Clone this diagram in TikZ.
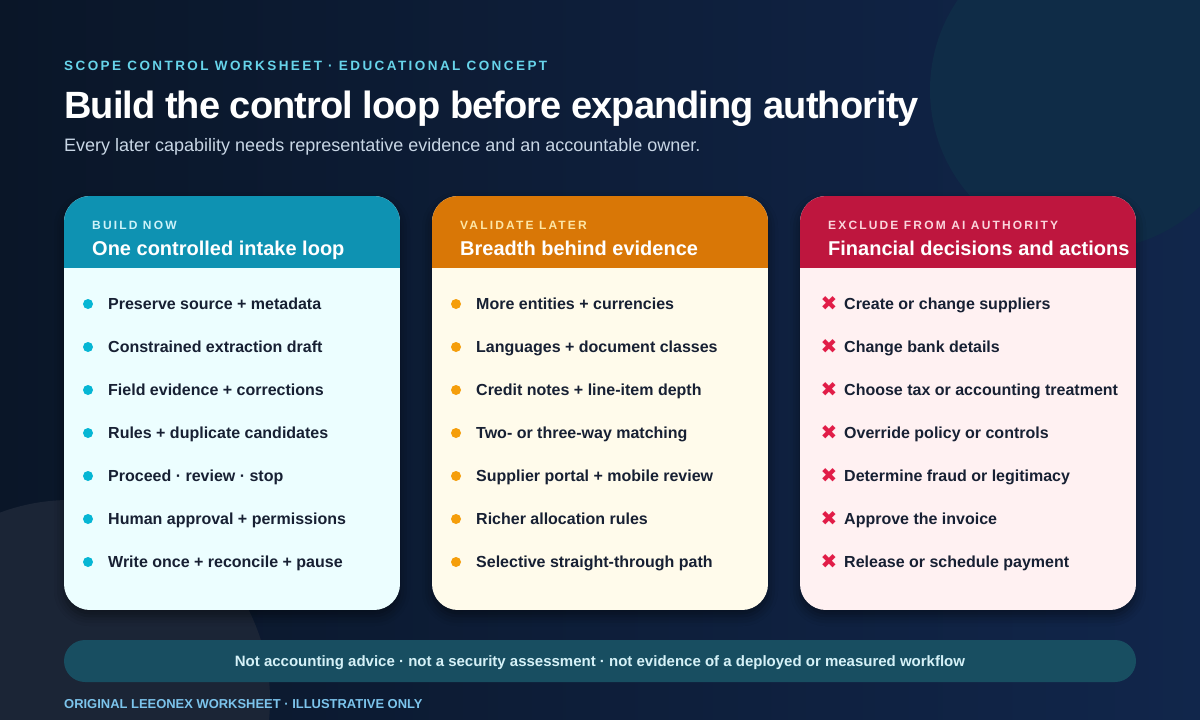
\documentclass[tikz,border=0pt]{standalone}
\usepackage{fontspec}
\setmainfont{Liberation Sans}
\newfontfamily\trackfont[LetterSpace=18]{Liberation Sans}
\newfontfamily\tightfont[LetterSpace=-2.4]{Liberation Sans}
\newfontfamily\symfont{DejaVu Sans}
\usetikzlibrary{shadows.blur}
\definecolor{bgl}{HTML}{0A1628}
\definecolor{bgr}{HTML}{11264B}
\definecolor{ringa}{HTML}{0F2C47}
\definecolor{ringb}{HTML}{1B2536}
\definecolor{kickc}{HTML}{67D4EA}
\definecolor{descc}{HTML}{C8D6E5}
\definecolor{inkc}{HTML}{172033}
\definecolor{headA}{HTML}{0E92B2}
\definecolor{bodyA}{HTML}{ECFEFF}
\definecolor{tagA}{HTML}{CDF3F9}
\definecolor{dotA}{HTML}{06B6D4}
\definecolor{headB}{HTML}{D97706}
\definecolor{bodyB}{HTML}{FFFBEB}
\definecolor{tagB}{HTML}{FDE6A6}
\definecolor{dotB}{HTML}{F59E0B}
\definecolor{headC}{HTML}{BE163E}
\definecolor{bodyC}{HTML}{FFF1F2}
\definecolor{tagC}{HTML}{FBD5DC}
\definecolor{dotC}{HTML}{E11D48}
\definecolor{bandc}{HTML}{184E61}
\definecolor{bandt}{HTML}{D5F1F7}
\definecolor{footc}{HTML}{7CC4EC}
\begin{document}
\begin{tikzpicture}[x=1pt,y=-1pt,
    kicker/.style={anchor=base west,inner sep=0,text=kickc,font=\trackfont\bfseries\fontsize{13.5}{14}\selectfont},
    bigtitle/.style={anchor=base west,inner sep=0,text=white,font=\tightfont\bfseries\fontsize{38}{40}\selectfont},
    lede/.style={anchor=base west,inner sep=0,text=descc,font=\fontsize{18}{20}\selectfont},
    tag/.style={anchor=base west,inner sep=0,font=\trackfont\bfseries\fontsize{12}{13}\selectfont},
    head/.style={anchor=base west,inner sep=0,text=white,font=\bfseries\fontsize{20}{22}\selectfont},
    item/.style={anchor=base west,inner sep=0,text=inkc,font=\bfseries\fontsize{16}{18}\selectfont},
    bullet/.style={circle,inner sep=0,minimum size=10},
    cross/.style={inner sep=0,text=dotC,font=\symfont\fontsize{20}{20}\selectfont},
    card/.style={rounded corners=26,blur shadow={shadow blur radius=10pt,shadow opacity=45,shadow xshift=0pt,shadow yshift=-6pt}}]
  \clip (0,0) rectangle (1200,720);
  \shade[left color=bgl,right color=bgr] (0,0) rectangle (1200,720);
  \fill[ringa] (1090,90) circle (160);
  \fill[ringb] (70,700) circle (200);

  \draw
    (64,70) node[kicker] (kick){SCOPE CONTROL WORKSHEET · EDUCATIONAL CONCEPT}
    (64,118) node[bigtitle] (title){Build the control loop before expanding authority}
    (64,151.5) node[lede] (sub){Every later capability needs representative evidence and an accountable owner.};

  \path[card] (64,196) rectangle (400,610);
  \path[card] (432,196) rectangle (768,610);
  \path[card] (800,196) rectangle (1136,610);
  \begin{scope}
    \clip[rounded corners=26] (64,196) rectangle (400,610);
    \fill[bodyA] (64,196) rectangle (400,610);
    \fill[headA] (64,196) rectangle (400,268);
  \end{scope}
  \begin{scope}
    \clip[rounded corners=26] (432,196) rectangle (768,610);
    \fill[bodyB] (432,196) rectangle (768,610);
    \fill[headB] (432,196) rectangle (768,268);
  \end{scope}
  \begin{scope}
    \clip[rounded corners=26] (800,196) rectangle (1136,610);
    \fill[bodyC] (800,196) rectangle (1136,610);
    \fill[headC] (800,196) rectangle (1136,268);
  \end{scope}

  \draw
    (92,229) node[tag,text=tagA] (tagA){BUILD NOW}
    (92,255) node[head] (headA){One controlled intake loop}
    (460,229) node[tag,text=tagB] (tagB){VALIDATE LATER}
    (460,255) node[head] (headB){Breadth behind evidence}
    (828,229) node[tag,text=tagC] (tagC){EXCLUDE FROM AI AUTHORITY}
    (828,255) node[head] (headC){Financial decisions and actions};

  \begin{scope}[bullet/.append style={fill=dotA}]
    \draw
      (88,304) node[bullet] (a1){} (108,309.5) node[item] (ta1){Preserve source + metadata}
      (88,347) node[bullet] (a2){} (108,352.5) node[item] (ta2){Constrained extraction draft}
      (88,390) node[bullet] (a3){} (108,395.5) node[item] (ta3){Field evidence + corrections}
      (88,433) node[bullet] (a4){} (108,438.5) node[item] (ta4){Rules + duplicate candidates}
      (88,476) node[bullet] (a5){} (108,481.5) node[item] (ta5){Proceed · review · stop}
      (88,519) node[bullet] (a6){} (108,524.5) node[item] (ta6){Human approval + permissions}
      (88,562) node[bullet] (a7){} (108,567.5) node[item] (ta7){Write once + reconcile + pause};
  \end{scope}
  \begin{scope}[bullet/.append style={fill=dotB}]
    \draw
      (456,304) node[bullet] (b1){} (476,309.5) node[item] (tb1){More entities + currencies}
      (456,347) node[bullet] (b2){} (476,352.5) node[item] (tb2){Languages + document classes}
      (456,390) node[bullet] (b3){} (476,395.5) node[item] (tb3){Credit notes + line-item depth}
      (456,433) node[bullet] (b4){} (476,438.5) node[item] (tb4){Two- or three-way matching}
      (456,476) node[bullet] (b5){} (476,481.5) node[item] (tb5){Supplier portal + mobile review}
      (456,519) node[bullet] (b6){} (476,524.5) node[item] (tb6){Richer allocation rules}
      (456,562) node[bullet] (b7){} (476,567.5) node[item] (tb7){Selective straight-through path};
  \end{scope}
  \draw
    (829,304) node[cross] (c1){✖} (844,309.5) node[item] (tc1){Create or change suppliers}
    (829,347) node[cross] (c2){✖} (844,352.5) node[item] (tc2){Change bank details}
    (829,390) node[cross] (c3){✖} (844,395.5) node[item] (tc3){Choose tax or accounting treatment}
    (829,433) node[cross] (c4){✖} (844,438.5) node[item] (tc4){Override policy or controls}
    (829,476) node[cross] (c5){✖} (844,481.5) node[item] (tc5){Determine fraud or legitimacy}
    (829,519) node[cross] (c6){✖} (844,524.5) node[item] (tc6){Approve the invoice}
    (829,562) node[cross] (c7){✖} (844,567.5) node[item] (tc7){Release or schedule payment};

  \fill[bandc,rounded corners=21] (64,640) rectangle (1136,682);
  \draw
    (600,666.5) node[anchor=base,inner sep=0,text=bandt,font=\bfseries\fontsize{15}{17}\selectfont] (note){Not accounting advice · not a security assessment · not evidence of a deployed or measured workflow}
    (64,708) node[anchor=base west,inner sep=0,text=footc,font=\bfseries\fontsize{12.95}{14}\selectfont] (foot){ORIGINAL LEEONEX WORKSHEET · ILLUSTRATIVE ONLY};
\end{tikzpicture}
\end{document}
